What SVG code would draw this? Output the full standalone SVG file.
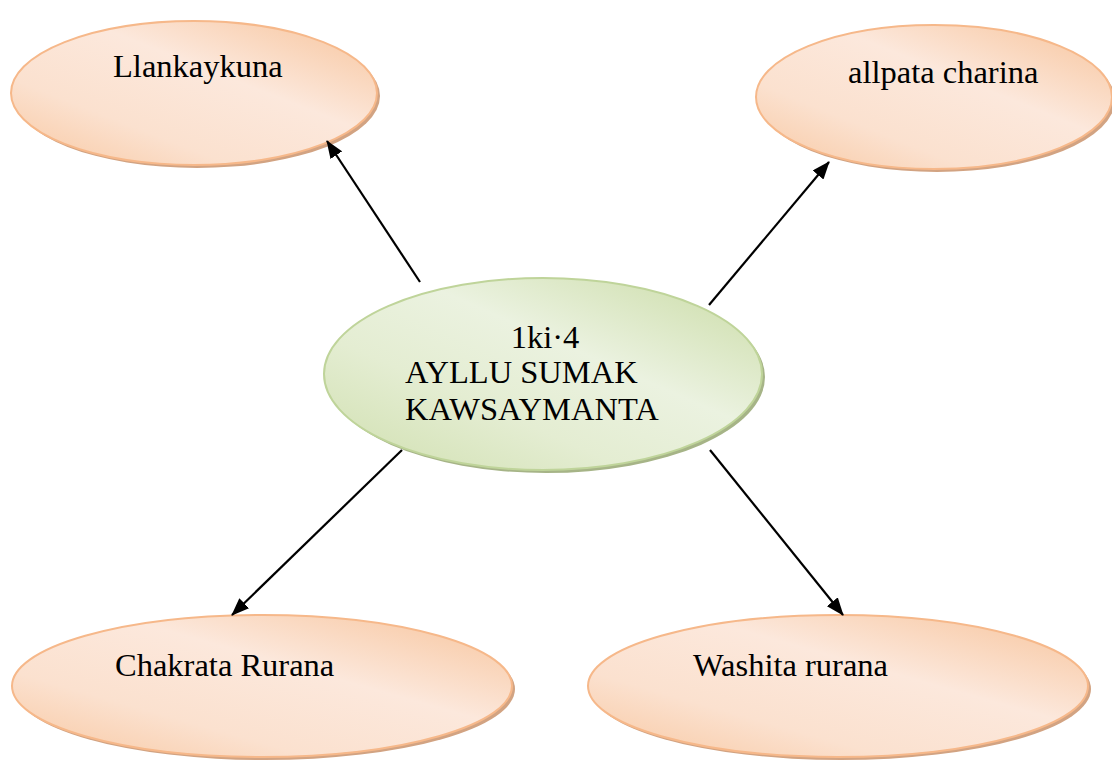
<svg xmlns="http://www.w3.org/2000/svg" width="1112" height="760" viewBox="0 0 1112 760">
<defs>
<linearGradient id="peach" x1="0" y1="1" x2="1" y2="0">
<stop offset="0" stop-color="#f8c7a0"/>
<stop offset="0.3" stop-color="#fbe1cf"/>
<stop offset="0.6" stop-color="#fce8dc"/>
<stop offset="1" stop-color="#f7c39a"/>
</linearGradient>
<linearGradient id="green" x1="0" y1="1" x2="1" y2="0">
<stop offset="0" stop-color="#cfdfae"/>
<stop offset="0.35" stop-color="#e4edd2"/>
<stop offset="0.6" stop-color="#ebf2e0"/>
<stop offset="1" stop-color="#c9dba4"/>
</linearGradient>
<marker id="arr" markerUnits="userSpaceOnUse" markerWidth="18" markerHeight="14" refX="17" refY="7" orient="auto">
<path d="M0,0 L18,7 L0,14 Z" fill="#000"/>
</marker>
</defs>
<style>
.p{fill:url(#peach);stroke:#f6b88a;stroke-width:2}
.ps{fill:#d2a382}
.g{fill:url(#green);stroke:#bfd49a;stroke-width:2}
.gs{fill:#a6b487}
.t{font-family:"Liberation Serif","Times New Roman",serif;font-size:32.5px;fill:#000}
.c{stroke:#000;stroke-width:2.2;fill:none;marker-end:url(#arr)}
</style>
<g id="node-llankaykuna">
<ellipse class="ps" cx="197" cy="96" rx="183" ry="72"/>
<ellipse class="p" cx="194" cy="93" rx="183" ry="72"/>
<text class="t" x="113" y="77">Llankaykuna</text>
</g>
<g id="node-allpata">
<ellipse class="ps" cx="937" cy="100" rx="178" ry="72"/>
<ellipse class="p" cx="934" cy="97" rx="178" ry="72"/>
<text class="t" x="848" y="83">allpata charina</text>
</g>
<g id="node-center">
<ellipse class="gs" cx="546" cy="377" rx="219" ry="96"/>
<ellipse class="g" cx="543" cy="374" rx="219" ry="96"/>
<text class="t" x="545" y="348" text-anchor="middle">1ki·4</text>
<text class="t" x="405" y="383">AYLLU SUMAK</text>
<text class="t" x="405" y="420">KAWSAYMANTA</text>
</g>
<g id="node-chakrata">
<ellipse class="ps" cx="265" cy="689" rx="250" ry="71"/>
<ellipse class="p" cx="262" cy="686" rx="250" ry="71"/>
<text class="t" x="115" y="676">Chakrata Rurana</text>
</g>
<g id="node-washita">
<ellipse class="ps" cx="841" cy="689" rx="250" ry="71"/>
<ellipse class="p" cx="838" cy="686" rx="250" ry="71"/>
<text class="t" x="693" y="676">Washita rurana</text>
</g>
<g id="connectors">
<line class="c" x1="420" y1="282" x2="327" y2="141"/>
<line class="c" x1="709" y1="305" x2="829" y2="162"/>
<line class="c" x1="402" y1="450" x2="232" y2="615"/>
<line class="c" x1="710" y1="450" x2="843" y2="615"/>
</g>
</svg>
